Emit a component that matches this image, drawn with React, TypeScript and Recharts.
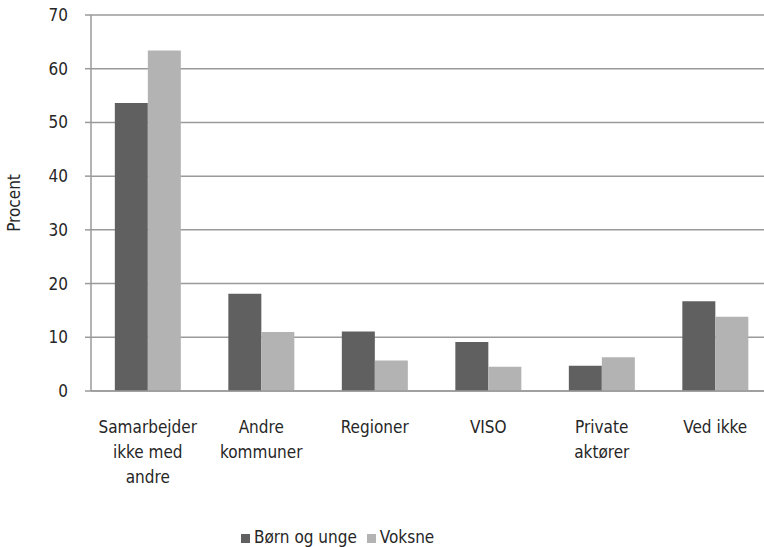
import React from 'react';
import { BarChart, Bar, XAxis, YAxis, CartesianGrid, Legend } from 'recharts';

const categories = ['Samarbejder\nikke med\nandre', 'Andre\nkommuner', 'Regioner', 'VISO', 'Private\naktører', 'Ved ikke'];
const bornOgUnge = [53.6, 18.1, 11.1, 9.1, 4.7, 16.7];
const voksne = [63.4, 11.0, 5.7, 4.5, 6.3, 13.8];
const yTicks = [0, 10, 20, 30, 40, 50, 60, 70];
const boundaryTicks = [0, 1, 2, 3, 4, 5, 6];

const data = categories.map((name, i) => ({
  name,
  born: bornOgUnge[i],
  voksne: voksne[i],
}));

const FONT = '"Liberation Sans Narrow", "DejaVu Sans Condensed", sans-serif';
const TEXT = '#262626';
const LINE = '#9a9a9a';

const CategoryTick = (props: any) => {
  const { x, y, payload } = props;
  const lines = String(payload.value).split('\n');
  return (
    <text x={x} y={y} textAnchor="middle" fill={TEXT} fontSize={17} fontFamily={FONT}>
      {lines.map((line, i) => (
        <tspan key={i} x={x} dy={i === 0 ? 34 : 25}>
          {line}
        </tspan>
      ))}
    </text>
  );
};

const App = () => {
  return (
    <div style={{ position: 'absolute', left: 0, top: 0, width: 764, height: 547, overflow: 'hidden', background: '#fff' }}>
      <BarChart
        width={790}
        height={547}
        data={data}
        margin={{ top: 15, right: 18, left: 0, bottom: 0 }}
        barCategoryGap="21%"
        barGap={0}
        style={{ fontFamily: FONT }}
      >
        <CartesianGrid vertical={false} stroke={LINE} strokeWidth={1.5} />
        <XAxis
          xAxisId="bounds"
          type="number"
          domain={[0, 6]}
          ticks={boundaryTicks}
          allowDataOverflow
          height={0}
          axisLine={false}
          tick={false}
          tickLine={{ stroke: LINE, strokeWidth: 1.5 }}
          tickSize={6}
        />
        <XAxis
          dataKey="name"
          height={136}
          axisLine={{ stroke: LINE, strokeWidth: 1.5 }}
          tickLine={false}
          tick={<CategoryTick />}
          interval={0}
        />
        <YAxis
          width={91}
          domain={[0, 70]}
          ticks={yTicks}
          axisLine={{ stroke: LINE, strokeWidth: 1.5 }}
          tickLine={{ stroke: LINE, strokeWidth: 1.5 }}
          tickSize={6}
          tickMargin={17}
          tick={{ fill: TEXT, fontSize: 17, fontFamily: FONT }}
          label={{
            value: 'Procent',
            angle: -90,
            position: 'insideLeft',
            offset: 14,
            style: { textAnchor: 'middle', fill: TEXT, fontSize: 17, fontFamily: FONT },
          }}
        />
        <Legend
          verticalAlign="bottom"
          align="left"
          iconType="square"
          iconSize={9}
          wrapperStyle={{ left: 241, fontSize: 17, fontFamily: FONT }}
          formatter={(value) => <span style={{ color: TEXT }}>{value}</span>}
        />
        <Bar dataKey="born" name="Børn og unge" fill="#606060" isAnimationActive={false} />
        <Bar dataKey="voksne" name="Voksne" fill="#b3b3b3" isAnimationActive={false} />
      </BarChart>
    </div>
  );
};

export default App;
